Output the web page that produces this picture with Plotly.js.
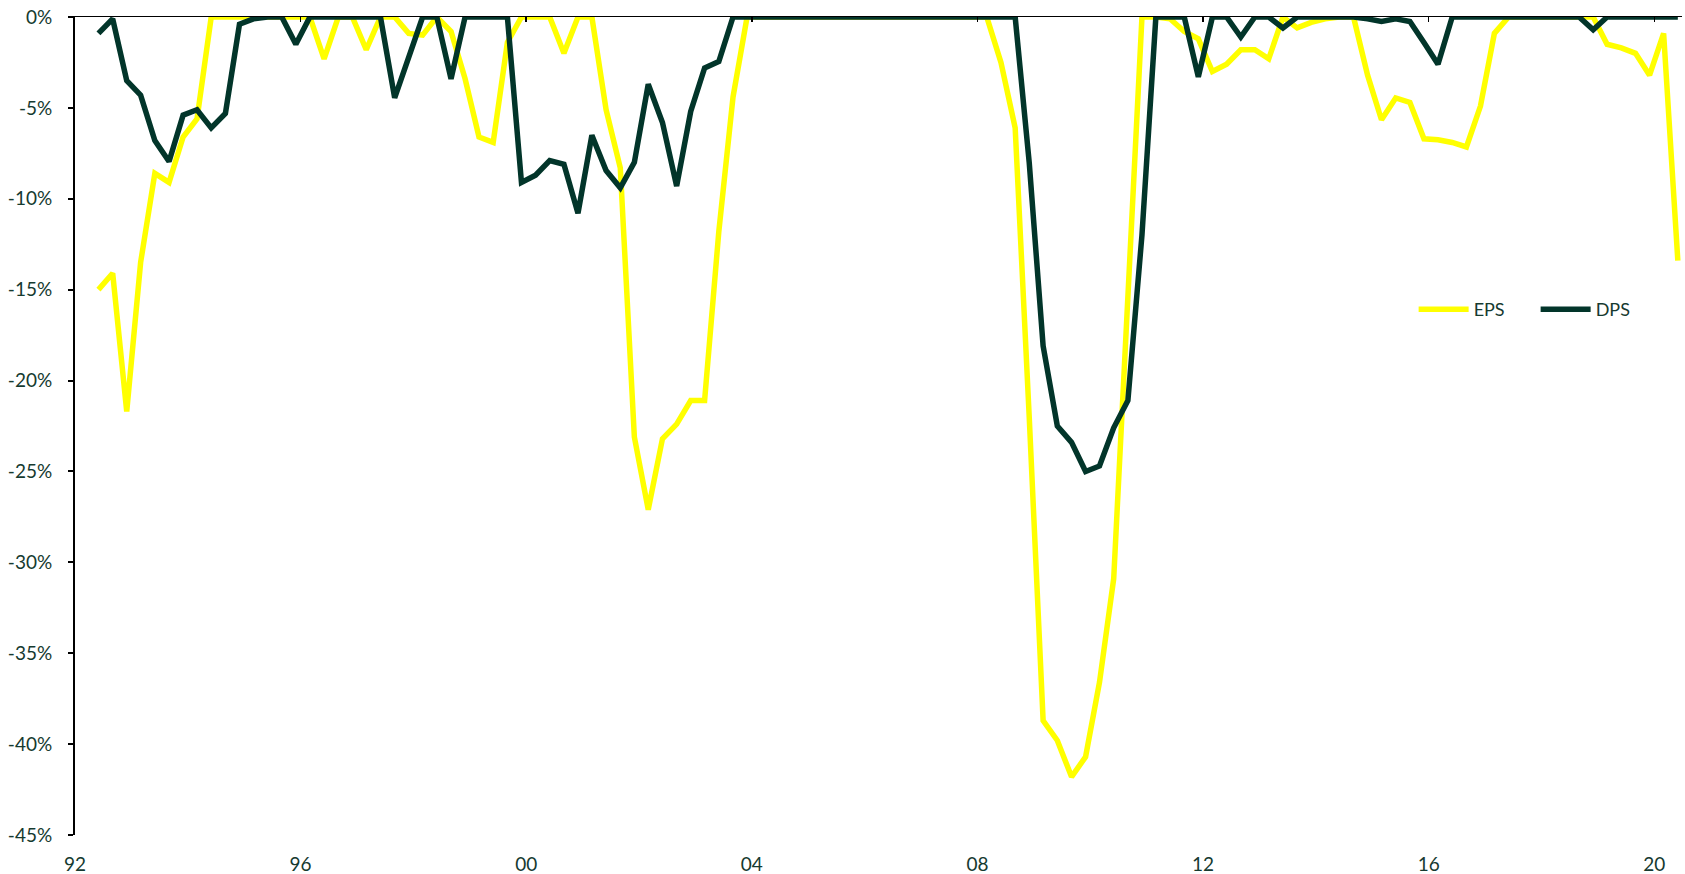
<!DOCTYPE html>
<html>
<head>
<meta charset="utf-8">
<script src="https://cdn.plot.ly/plotly-3.0.1.min.js"></script>
<style>
html,body{margin:0;padding:0;background:#fff;}
#chart{width:1685px;height:874px;}
</style>
</head>
<body>
<div id="chart"></div>
<script>
// Quarterly observation dates
const quarters = [
"1992-06","1992-09","1992-12",
"1993-03","1993-06","1993-09","1993-12",
"1994-03","1994-06","1994-09","1994-12",
"1995-03","1995-06","1995-09","1995-12",
"1996-03","1996-06","1996-09","1996-12",
"1997-03","1997-06","1997-09","1997-12",
"1998-03","1998-06","1998-09","1998-12",
"1999-03","1999-06","1999-09","1999-12",
"2000-03","2000-06","2000-09","2000-12",
"2001-03","2001-06","2001-09","2001-12",
"2002-03","2002-06","2002-09","2002-12",
"2003-03","2003-06","2003-09","2003-12",
"2004-03","2004-06","2004-09","2004-12",
"2005-03","2005-06","2005-09","2005-12",
"2006-03","2006-06","2006-09","2006-12",
"2007-03","2007-06","2007-09","2007-12",
"2008-03","2008-06","2008-09","2008-12",
"2009-03","2009-06","2009-09","2009-12",
"2010-03","2010-06","2010-09","2010-12",
"2011-03","2011-06","2011-09","2011-12",
"2012-03","2012-06","2012-09","2012-12",
"2013-03","2013-06","2013-09","2013-12",
"2014-03","2014-06","2014-09","2014-12",
"2015-03","2015-06","2015-09","2015-12",
"2016-03","2016-06","2016-09","2016-12",
"2017-03","2017-06","2017-09","2017-12",
"2018-03","2018-06","2018-09","2018-12",
"2019-03","2019-06","2019-09","2019-12",
"2020-03","2020-06"
];

// Drawdown of EPS (%)
const eps = [
-15.0,-14.1,-21.7,-13.5,-8.6,-9.1,-6.6,-5.6,0,0,
0,0,0,0,0,0,-2.3,0,0,-1.8,
0,0,-0.9,-1.0,0,-0.8,-3.4,-6.6,-6.9,-1.4,
0,0,0,-2.0,0,0,-5.1,-8.3,-23.1,-27.1,
-23.2,-22.4,-21.1,-21.1,-11.8,-4.4,0,0,0,0,
0,0,0,0,0,0,0,0,0,0,
0,0,0,0,-2.5,-6.1,-22.0,-38.7,-39.8,-41.8,
-40.7,-36.6,-30.9,-16.0,0,0,-0.1,-0.8,-1.2,-3.0,
-2.6,-1.8,-1.8,-2.3,0,-0.6,-0.3,-0.1,0,0,
-3.2,-5.65,-4.45,-4.7,-6.7,-6.75,-6.9,-7.15,-4.9,-0.9,
0,0,0,0,0,0,0,-1.5,-1.7,-2.0,
-3.2,-0.9,-13.4
];

// Drawdown of DPS (%)
const dps = [
-0.9,-0.1,-3.5,-4.3,-6.8,-7.95,-5.4,-5.1,-6.1,-5.3,
-0.4,-0.1,0,0,-1.5,0,0,0,0,0,
0,-4.45,-2.2,0,0,-3.4,0,0,0,0,
-9.1,-8.7,-7.9,-8.1,-10.8,-6.5,-8.45,-9.4,-8.0,-3.7,
-5.8,-9.3,-5.2,-2.8,-2.45,0,0,0,0,0,
0,0,0,0,0,0,0,0,0,0,
0,0,0,0,0,0,-8.0,-18.1,-22.5,-23.4,
-25.0,-24.7,-22.6,-21.1,-12.0,0,0,0,-3.3,0,
0,-1.1,0,0,-0.6,0,0,0,0,0,
-0.1,-0.25,-0.1,-0.25,-1.4,-2.6,0,0,0,0,
0,0,0,0,0,0,-0.7,0,0,0,
0,0,0
];

const xTickVals = ["1992-01-01","1996-01-01","2000-01-01","2004-01-01","2008-01-01","2012-01-01","2016-01-01","2020-01-01"];
const xTickLabels = ["92","96","00","04","08","12","16","20"];
const yTickVals = [0,-5,-10,-15,-20,-25,-30,-35,-40,-45];
const yTickLabels = ["0%","-5%","-10%","-15%","-20%","-25%","-30%","-35%","-40%","-45%"];
const xRange = ["1992-01-01","2020-06-28"];

const textColor = "#163a30";

const traces = [
  {x: quarters, y: eps, name: "EPS", type: "scatter", mode: "lines",
   line: {color: "#FFFF00", width: 5.5}, hoverinfo: "x+y"},
  {x: quarters, y: dps, name: "DPS", type: "scatter", mode: "lines",
   line: {color: "#02352A", width: 5.5}, hoverinfo: "x+y"},
  {x: [quarters[0]], y: [null], xaxis: "x2", showlegend: false, hoverinfo: "skip", mode: "lines"}
];

const layout = {
  width: 1685, height: 874,
  margin: {l: 75, r: 3, t: 17, b: 39, pad: 0, autoexpand: false},
  paper_bgcolor: "#ffffff", plot_bgcolor: "#ffffff",
  font: {family: "Lato, 'Open Sans', sans-serif", color: textColor, size: 19},
  showlegend: true,
  legend: {orientation: "h", x: 0.833, xanchor: "left", y: 0.6424, yanchor: "middle",
           font: {size: 18, color: textColor}, itemwidth: 50, entrywidth: 57, entrywidthmode: "pixels",
           bgcolor: "rgba(0,0,0,0)", borderwidth: 0},
  xaxis: {type: "date", range: xRange, side: "top", showline: true, linecolor: "#000", linewidth: 1.5,
          ticks: "inside", ticklen: 5, tickwidth: 1.5, tickcolor: "#000", tickmode: "array", tickvals: xTickVals,
          showticklabels: false, showgrid: false, zeroline: false},
  xaxis2: {type: "date", range: xRange, overlaying: "x", side: "bottom", anchor: "y", showline: false,
           tickmode: "array", tickvals: xTickVals, ticktext: xTickLabels, ticks: "",
           showgrid: false, zeroline: false, ticklabelstandoff: 16,
           tickfont: {size: 19, color: textColor}},
  yaxis: {range: [-45, 0], tickmode: "array", tickvals: yTickVals, ticktext: yTickLabels,
          showline: true, linecolor: "#000", linewidth: 2, ticks: "outside", ticklen: 5, tickwidth: 2,
          tickcolor: "#000", showgrid: false, zeroline: false, ticklabelstandoff: 12,
          tickfont: {size: 19, color: textColor}}
};

Plotly.newPlot("chart", traces, layout, {displayModeBar: false, staticPlot: true});
</script>
</body>
</html>
